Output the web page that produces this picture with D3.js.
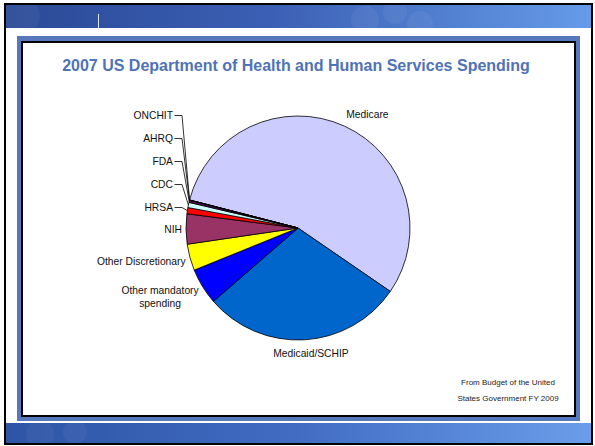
<!DOCTYPE html>
<html>
<head>
<meta charset="utf-8">
<script src="https://cdn.jsdelivr.net/npm/d3@7"></script>
<style>
  body { margin: 0; background: #fff; }
  text { font-family: "Liberation Sans", Arial, sans-serif; }
</style>
</head>
<body>
<script>
// 2007 HHS spending, $ billions
var categories = ["Medicare", "Medicaid/SCHIP", "Other mandatory\nspending", "Other Discretionary",
                  "NIH", "HRSA", "CDC", "FDA", "AHRQ", "ONCHIT"];
var spending = [371, 194, 35, 25.5, 29, 6, 5, 2, 0.3, 0.06];
var sliceColors = ["#ccccff", "#0066cc", "#0000ff", "#ffff00", "#993366",
                   "#ff0000", "#ccffff", "#660066", "#000080", "#ff00ff"];
var title = "2007 US Department of Health and Human Services Spending";
var sourceNote = ["From Budget of the United", "States Government FY 2009"];

var width = 595;
var height = 446;

var svg = d3.select("body")
            .append("svg")
              .attr("width", width)
              .attr("height", height);

var defs = svg.append("defs");

var topGrad = defs.append("linearGradient").attr("id", "topband");
topGrad.append("stop").attr("offset", "0%").attr("stop-color", "#2b4a97");
topGrad.append("stop").attr("offset", "45%").attr("stop-color", "#3b5fb4");
topGrad.append("stop").attr("offset", "100%").attr("stop-color", "#659be8");

var botGrad = defs.append("linearGradient").attr("id", "botband");
botGrad.append("stop").attr("offset", "0%").attr("stop-color", "#2e55a5");
botGrad.append("stop").attr("offset", "50%").attr("stop-color", "#416cc2");
botGrad.append("stop").attr("offset", "100%").attr("stop-color", "#6a9dea");

// slide frame + bands
svg.append("rect").attr("x", 6).attr("y", 5).attr("width", 585).attr("height", 23)
   .attr("fill", "url(#topband)");
svg.append("rect").attr("x", 6).attr("y", 423).attr("width", 585).attr("height", 20)
   .attr("fill", "url(#botband)");

// faint decoration in the bands
var deco = [[22, 16, 18], [365, 20, 14], [395, 12, 12], [420, 24, 13]];
svg.append("g").selectAll("circle")
  .data(deco)
  .enter()
  .append("circle")
  .attr("cx", function(d) { return d[0]; })
  .attr("cy", function(d) { return d[1]; })
  .attr("r", function(d) { return d[2]; })
  .attr("fill", "#ffffff")
  .attr("opacity", 0.05);
svg.append("g").selectAll("circle")
  .data([[40, 434, 14], [75, 432, 12]])
  .enter()
  .append("circle")
  .attr("cx", function(d) { return d[0]; })
  .attr("cy", function(d) { return d[1]; })
  .attr("r", function(d) { return d[2]; })
  .attr("fill", "#ffffff")
  .attr("opacity", 0.04);
svg.append("line").attr("x1", 98.5).attr("x2", 98.5).attr("y1", 14).attr("y2", 28)
   .attr("stroke", "#dfe8f8").attr("stroke-width", 1);

svg.append("rect").attr("x", 5).attr("y", 4).attr("width", 587).attr("height", 440)
   .attr("fill", "none").attr("stroke", "#000").attr("stroke-width", 2);

// blue panel frame
svg.append("rect").attr("x", 17).attr("y", 36).attr("width", 563).attr("height", 385)
   .attr("fill", "#5678bc");
svg.append("rect").attr("x", 22).attr("y", 42).attr("width", 553).attr("height", 374)
   .attr("fill", "#fff").attr("stroke", "#000").attr("stroke-width", 2);

svg.append("text")
  .attr("x", 296)
  .attr("y", 71)
  .attr("text-anchor", "middle")
  .attr("font-size", "16px")
  .attr("font-weight", "bold")
  .attr("fill", "#4f73b7")
  .text(title);

// pie
var cx = 298, cy = 228, r = 112;
var rot = -75.5 * Math.PI / 180;

var pie = d3.pie()
            .sort(null)
            .value(function(d) { return d; })
            .startAngle(rot)
            .endAngle(rot + 2 * Math.PI);

var arc = d3.arc().innerRadius(0).outerRadius(r);
var slices = pie(spending);

var g = svg.append("g").attr("transform", "translate(" + cx + "," + cy + ")");

g.selectAll("path")
  .data(slices)
  .enter()
  .append("path")
  .attr("d", arc)
  .attr("fill", function(d, i) { return sliceColors[i]; })
  .attr("stroke", "#000")
  .attr("stroke-width", 0.8)
  .attr("stroke-linejoin", "round");

// labels: big slices sit just outside the rim, tiny ones get stacked with leaders
var fs = 10.3, lineH = 13;
var labelG = g.append("g");

slices.forEach(function(d, i) {
  var a = (d.startAngle + d.endAngle) / 2;
  var lines = categories[i].split("\n");
  var t = labelG.append("text")
    .attr("font-size", fs + "px")
    .attr("fill", "#111");
  lines.forEach(function(s, k) {
    t.append("tspan").attr("x", 0).attr("dy", k === 0 ? 0 : lineH).text(s);
  });

  if (i < 5) {
    var R = r + 4;
    var px = R * Math.sin(a), py = -R * Math.cos(a);
    var bb = t.node().getBBox();
    var w = bb.width, h = (lines.length - 1) * lineH + fs;
    var sx = Math.max(-1, Math.min(1, Math.sin(a) * 3));
    var ccx = px + sx * w / 2;
    var ccy = py - Math.cos(a) * (h + 8) / 2;
    t.attr("text-anchor", "middle");
    t.selectAll("tspan").attr("x", ccx);
    t.select("tspan").attr("y", ccy - h / 2 + fs * 0.86);
  } else {
    var k = i - 5;
    var yc = 207.5 - cy - k * 23;
    var xEnd = -r - 13;
    t.attr("text-anchor", "end");
    t.select("tspan").attr("x", xEnd).attr("y", yc + 3.5);
    var rim = [r * Math.sin(a), -r * Math.cos(a)];
    labelG.append("polyline")
      .attr("points", [[xEnd + 1.5, yc], [-r - 4, yc], rim].map(function(p) { return p.join(","); }).join(" "))
      .attr("fill", "none")
      .attr("stroke", "#000")
      .attr("stroke-width", 0.8);
  }
});

svg.selectAll(".note")
  .data(sourceNote)
  .enter()
  .append("text")
  .attr("class", "note")
  .attr("x", 508)
  .attr("y", function(d, i) { return 385 + i * 16; })
  .attr("text-anchor", "middle")
  .attr("font-size", "8px")
  .attr("fill", "#222")
  .text(function(d) { return d; });
</script>
</body>
</html>
